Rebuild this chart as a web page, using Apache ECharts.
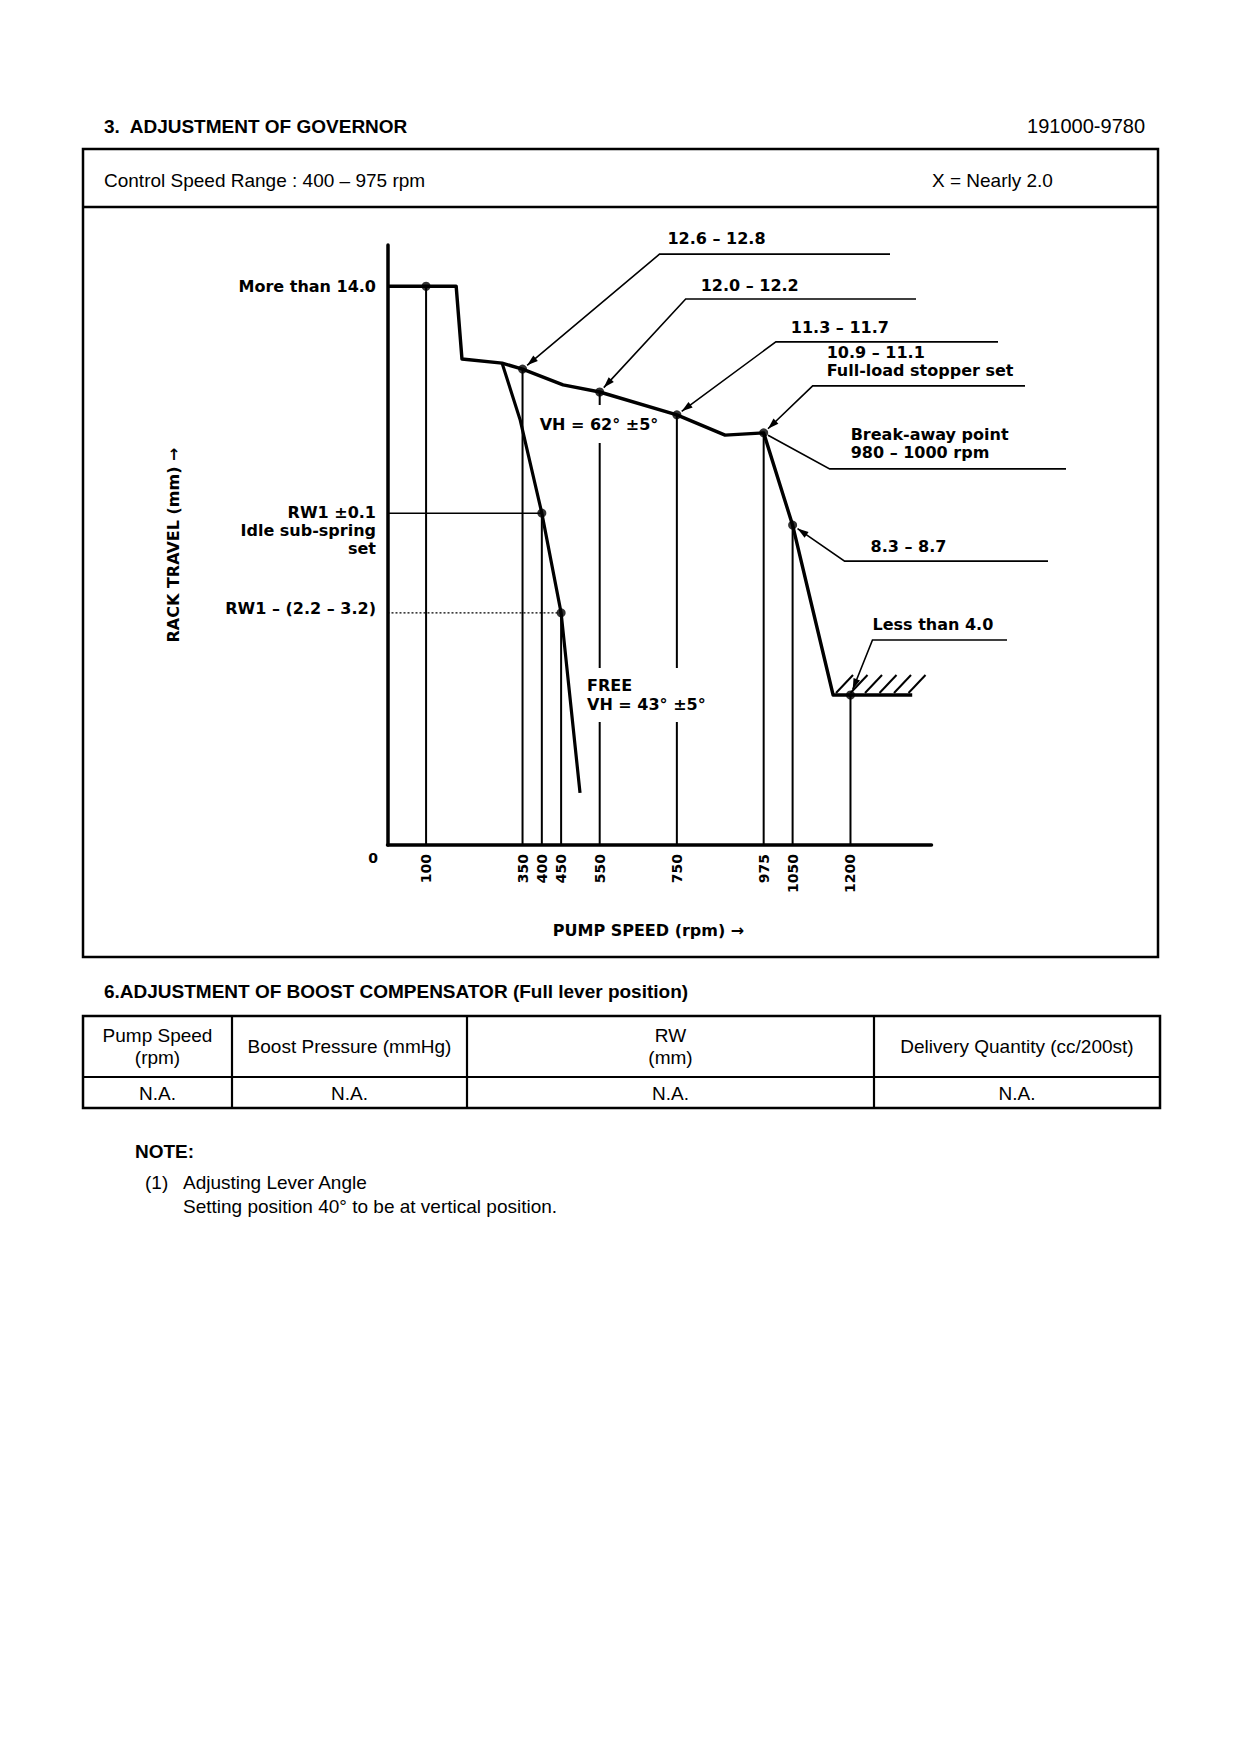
<!DOCTYPE html>
<html><head><meta charset="utf-8">
<script src="https://cdn.jsdelivr.net/npm/echarts@6/dist/echarts.min.js"></script>
<style>html,body{margin:0;padding:0;background:#fff}#c{width:1240px;height:1754px}</style>
</head><body><div id="c"></div>
<script>
// ---------------- data ----------------
const speedTicks = [100, 350, 400, 450, 550, 750, 975, 1050, 1200];
const fullLoadSpeed = [0, 178, 193, 297, 350, 455, 550, 750, 875, 975, 1050, 1155, 1360];
const fullLoadRack  = [14.9, 14.9, 12.96, 12.85, 12.69, 12.27, 12.08, 11.47, 10.93, 10.99, 8.53, 4.0, 4.0];
const freeSpeed = [297, 344, 400, 450, 499];
const freeRack  = [12.85, 11.33, 8.85, 6.19, 1.39];
const dropSpeed = [100, 350, 400, 450, 550, 750, 975, 1050, 1200];
const dropRack  = [14.9, 12.69, 8.85, 6.19, 12.08, 11.47, 10.99, 8.53, 4.0];
const rw1Speed = 400, rw1Rack = 8.85;
const rw1LowSpeed = 450, rw1LowRack = 6.19;
const leaderText = ['12.6 – 12.8', '12.0 – 12.2', '11.3 – 11.7', '10.9 – 11.1\nFull-load stopper set',
                    'Break-away point\n980 – 1000 rpm', '8.3 – 8.7', 'Less than 4.0'];
const leaderSpeed = [350, 550, 750, 975, 975, 1050, 1200];
const leaderRack  = [12.69, 12.08, 11.47, 10.99, 10.99, 8.53, 4.0];
const leftLabels = ['More than 14.0', 'RW1 ±0.1\nIdle sub-spring\nset', 'RW1 – (2.2 – 3.2)'];
const leftLabelRack = [14.9, 8.85, 6.19];
const tableHeaders = ['Pump Speed\n(rpm)', 'Boost Pressure (mmHg)', 'RW\n(mm)', 'Delivery Quantity (cc/200st)'];
const tableRow = ['N.A.', 'N.A.', 'N.A.', 'N.A.'];

// ---------------- layout ----------------
const GL = 387.5, GT = 245, GW = 544, GH = 600, XMAX = 1410, YMAX = 16;
const X = v => GL + v / XMAX * GW;
const Y = v => GT + GH - v / YMAX * GH;
const CF = 'bold 16px "DejaVu Sans"';
const DF = '"Liberation Sans", Arial, sans-serif';

function txt(x, y, text, font, align, valign, extra, z) {
  return { type: 'text', x: x, y: y, z: z || 20,
    style: Object.assign({ text: text, font: font, fill: '#000',
      align: align || 'left', textAlign: align || 'left',
      verticalAlign: valign || 'middle', textVerticalAlign: valign || 'middle' }, extra || {}) };
}
function ln(x1, y1, x2, y2, w, extra) {
  return { type: 'line', z: 15, shape: { x1, y1, x2, y2 }, style: Object.assign({ stroke: '#000', lineWidth: w }, extra || {}) };
}

const g = [];
// header
g.push(txt(104, 126, '3.  ADJUSTMENT OF GOVERNOR', 'bold 19px ' + DF));
g.push(txt(1145, 126, '191000-9780', '20px ' + DF, 'right'));
g.push({ type: 'rect', z: 15, shape: { x: 83, y: 149, width: 1075, height: 808 }, style: { fill: null, stroke: '#000', lineWidth: 2.5 } });
g.push(ln(83, 207, 1158, 207, 2.5));
g.push(txt(104, 180, 'Control Speed Range : 400 – 975 rpm', '19px ' + DF));
g.push(txt(932, 180, 'X = Nearly 2.0', '19px ' + DF));

// leaders
const elbowOff = [[137, -115], [86, -93], [99, -73], [49, -47], [66, 36], [52, 36], [22, -55]];
const endX = [890, 916, 998, 1025, 1066, 1048, 1007];
const labOff = [[57, -16, 'center'], [64, -14, 'center'], [64, -14, 'center'], [14, -24, 'left'], [21, -25, 'left'], [26, -15, 'left'], [0, -16, 'left']];
const hasArrow = [true, true, true, true, false, true, true];
for (let i = 0; i < leaderText.length; i++) {
  const tx = X(leaderSpeed[i]), ty = Y(leaderRack[i]);
  const ex = tx + elbowOff[i][0], ey = ty + elbowOff[i][1];
  const dx = ex - tx, dy = ey - ty, L = Math.hypot(dx, dy), ux = dx / L, uy = dy / L;
  const gap = hasArrow[i] ? 6 : 5;
  const sx = tx + ux * gap, sy = ty + uy * gap;
  g.push({ type: 'polyline', z: 15, shape: { points: [[endX[i], ey], [ex, ey], [sx, sy]] }, style: { stroke: '#000', lineWidth: 1.6, fill: null } });
  if (hasArrow[i]) {
    const al = 11, aw = 3.5;
    const bx = sx + ux * al, by = sy + uy * al;
    g.push({ type: 'polygon', z: 15, shape: { points: [[sx, sy], [bx - uy * aw, by + ux * aw], [bx + uy * aw, by - ux * aw]] }, style: { fill: '#000' } });
  }
  g.push(txt(ex + labOff[i][0], ey + labOff[i][1], leaderText[i], CF, labOff[i][2], 'middle', { lineHeight: 18 }));
}
// hatch at stopper
const hy = Y(4.0);
for (let k = 0; k < 6; k++) {
  const x0 = 836 + k * 14.5;
  g.push(ln(x0, hy - 2, x0 + 17, hy - 20, 2));
}
// left labels
g.push(txt(376, Y(leftLabelRack[0]), leftLabels[0], CF, 'right'));
g.push(txt(376, Y(leftLabelRack[1]) - 1, leftLabels[1], CF, 'right', 'top', { lineHeight: 18, padding: [-9, 0, 0, 0] }));
g.push(txt(376, Y(leftLabelRack[2]) - 4, leftLabels[2], CF, 'right'));
// inner notes with white background (cut through drop lines, below the curves)
g.push(txt(599, 424, 'VH = 62° ±5°', CF, 'center', 'middle', { backgroundColor: '#fff', padding: [14, 4, 8, 4] }, 4));
g.push(txt(585, 695, 'FREE\nVH = 43° ±5°', CF, 'left', 'middle', { backgroundColor: '#fff', padding: [8, 4, 8, 2], lineHeight: 19 }, 4));
g.push(txt(373, 858, '0', 'bold 14px "DejaVu Sans"', 'center'));

// section 6 + table
g.push(txt(104, 991, '6.ADJUSTMENT OF BOOST COMPENSATOR (Full lever position)', 'bold 19px ' + DF));
const colX = [83, 232, 467, 874, 1160];
const tTop = 1016, tMid = 1077, tBot = 1108;
g.push({ type: 'rect', z: 15, shape: { x: 83, y: tTop, width: 1077, height: tBot - tTop }, style: { fill: null, stroke: '#000', lineWidth: 2.5 } });
g.push(ln(83, tMid, 1160, tMid, 2.2));
for (let c = 1; c < 4; c++) g.push(ln(colX[c], tTop, colX[c], tBot, 2.2));
for (let c = 0; c < 4; c++) {
  const cx = (colX[c] + colX[c + 1]) / 2;
  g.push(txt(cx, (tTop + tMid) / 2, tableHeaders[c], '19px ' + DF, 'center', 'middle', { lineHeight: 22 }));
  g.push(txt(cx, (tMid + tBot) / 2 + 1, tableRow[c], '19px ' + DF, 'center'));
}
// notes
g.push(txt(135, 1151, 'NOTE:', 'bold 19px ' + DF));
g.push(txt(145, 1182, '(1)', '19px ' + DF));
g.push(txt(183, 1182, 'Adjusting Lever Angle', '19px ' + DF));
g.push(txt(183, 1206, 'Setting position 40° to be at vertical position.', '19px ' + DF));

// ---------------- series ----------------
const zip = (a, b) => a.map((v, i) => [v, b[i]]);
const dropData = [];
dropSpeed.forEach((s, i) => { dropData.push([s, 0], [s, dropRack[i]], ['-', '-']); });
const dots = zip(dropSpeed, dropRack);

const chart = echarts.init(document.getElementById('c'), null, { renderer: 'svg', width: 1240, height: 1754 });
chart.setOption({
  backgroundColor: '#fff',
  animation: false,
  grid: { left: GL, top: GT, width: GW, height: GH },
  xAxis: {
    type: 'value', min: 0, max: XMAX,
    axisLine: { lineStyle: { color: '#000', width: 3.5 } },
    axisTick: { show: false }, splitLine: { show: false },
    axisLabel: { customValues: speedTicks, formatter: v => String(v), rotate: 90, color: '#000',
      fontFamily: 'DejaVu Sans', fontWeight: 'bold', fontSize: 14, margin: 9 },
    name: 'PUMP SPEED (rpm) →', nameLocation: 'middle', nameGap: 77,
    nameTextStyle: { color: '#000', fontFamily: 'DejaVu Sans', fontWeight: 'bold', fontSize: 16, padding: [0, 22, 0, 0] }
  },
  yAxis: {
    type: 'value', min: 0, max: YMAX,
    axisLine: { show: true, lineStyle: { color: '#000', width: 3.5 } },
    axisTick: { show: false }, splitLine: { show: false }, axisLabel: { show: false },
    name: 'RACK TRAVEL (mm) →', nameLocation: 'middle', nameGap: 206, nameRotate: 90,
    nameTextStyle: { color: '#000', fontFamily: 'DejaVu Sans', fontWeight: 'bold', fontSize: 16 }
  },
  series: [
    { name: 'drop', type: 'line', data: dropData, symbol: 'none', connectNulls: false, clip: false, z: 3,
      lineStyle: { color: '#000', width: 2 } },
    { name: 'rw1', type: 'line', data: [[0, rw1Rack], [rw1Speed, rw1Rack]], symbol: 'none', z: 3,
      lineStyle: { color: '#000', width: 1.5 } },
    { name: 'rw1low', type: 'line', data: [[0, rw1LowRack], [rw1LowSpeed, rw1LowRack]], symbol: 'none', z: 3,
      lineStyle: { color: '#000', width: 1.3, type: [2, 2] } },
    { name: 'full', type: 'line', data: zip(fullLoadSpeed, fullLoadRack), symbol: 'none', clip: false, z: 5,
      lineStyle: { color: '#000', width: 3.4, join: 'round' } },
    { name: 'free', type: 'line', data: zip(freeSpeed, freeRack), symbol: 'none', clip: false, z: 5,
      lineStyle: { color: '#000', width: 3.2, join: 'round' } },
    { name: 'points', type: 'scatter', data: dots, symbolSize: 9, z: 6, itemStyle: { color: '#000' } }
  ],
  graphic: { elements: g }
});
</script></body></html>
